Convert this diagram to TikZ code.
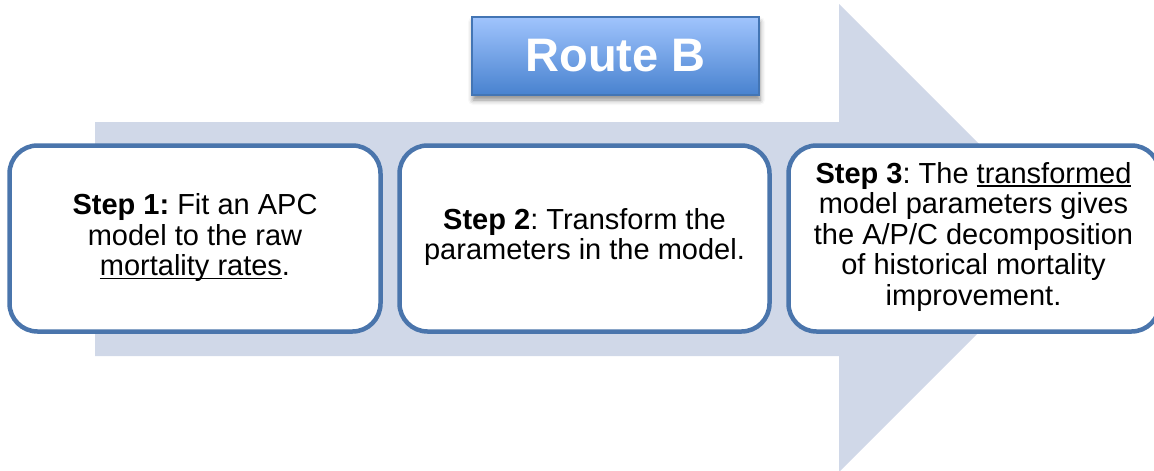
\documentclass[tikz,border=0pt]{standalone}
\usepackage{fontspec}
\setmainfont{Liberation Sans}
\usetikzlibrary{shadows.blur}
\frenchspacing
\definecolor{arrowfill}{HTML}{D0D8E8}
\definecolor{stepline}{HTML}{4A75AC}
\definecolor{routetop}{HTML}{A0C4FD}
\definecolor{routebot}{HTML}{4882CF}
\definecolor{routeline}{HTML}{4375B4}
% underline sitting close under the baseline
\newcommand\undl[1]{\setbox0\hbox{#1}\rlap{\rule[-3.6pt]{\wd0}{1.3pt}}\box0}
\tikzset{
  stepbox/.style={draw=stepline, line width=4.5pt, fill=white, rounded corners=28pt},
  steptext/.style={align=center, font=\fontsize{29pt}{30.5pt}\selectfont\frenchspacing, text=black},
  routebox/.style={draw=routeline, line width=1.2pt, top color=routetop, bottom color=routebot,
    blur shadow={shadow xshift=1pt, shadow yshift=-5pt, shadow blur radius=5pt, shadow opacity=45}},
}
\begin{document}
\begin{tikzpicture}[x=1pt, y=-1pt]
\useasboundingbox (0,0) rectangle (1154,471);
\clip (0,0) rectangle (1154,471);
% big process arrow in the background
\fill[arrowfill] (95,122) -- (839,122) -- (839,4) -- (1073,238) -- (839,472)
  -- (839,356) -- (95,356) -- cycle;
% title box
\node[routebox, minimum width=287pt, minimum height=78pt, inner sep=0pt] (route) at (615.5,56)
  {\fontsize{47pt}{50pt}\selectfont\bfseries\color{white}Route B};
% the three steps
\draw[stepbox] (9.5,145.5) rectangle (380.5,331.5);
\draw[stepbox] (399.5,145.5) rectangle (769.5,331.5);
\draw[stepbox] (788.5,145.5) rectangle (1159.5,331.5);
\node[steptext] (s1) at (195,237.5)
  {\textbf{Step 1:} Fit an APC\\ model to the raw\\ \undl{mortality rates}.};
\node[steptext] (s2) at (584.5,237)
  {\textbf{Step 2}: Transform the\\ parameters in the model.};
\node[steptext] (s3) at (973.5,236.5)
  {\textbf{Step 3}: The \undl{transformed}\\ model parameters gives\\ the A/P/C decomposition\\ of historical mortality\\ improvement.};
\end{tikzpicture}
\end{document}
